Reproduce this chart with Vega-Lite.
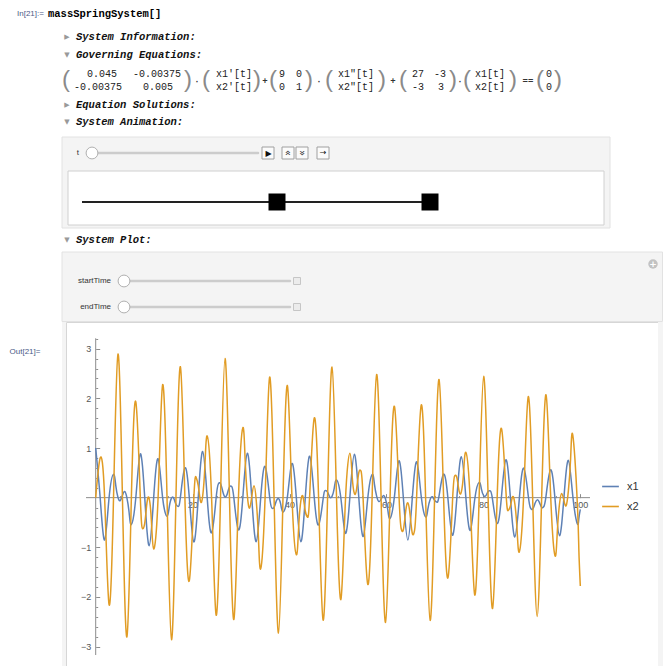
{
"$schema": "https://vega.github.io/schema/vega-lite/v6.json",
"background": "white",
"padding": 0,
"spacing": 0,
"bounds": "flush",
"config": {"view": {"stroke": null}, "concat": {"spacing": 0}},
"datasets": {
"panels": [{"x":62,"x2":610,"y":137,"y2":228},{"x":62,"x2":662.5,"y":252,"y2":321.5}],
"inner": [{"x":68,"x2":604,"y":171,"y2":225}],
"tracks": [{"x":90,"x2":258,"y":153},{"x":120,"x2":290,"y":281},{"x":120,"x2":290,"y":307}],
"animline": [{"x":82,"x2":438,"y":202}],
"masses": [{"x":277,"y":202},{"x":430,"y":202}],
"knobs": [{"x":92,"y":153},{"x":124,"y":281},{"x":124,"y":307}],
"plusboxes": [{"x":297,"y":281},{"x":297,"y":307}],
"buttons": [{"x":268,"y":153},{"x":288,"y":153},{"x":302,"y":153},{"x":323,"y":153}],
"glyphs": [{"x":268.5,"y":153.5,"text":"▶"},{"x":323,"y":153,"text":"→"}],
"chevup": [{"x":288,"y":153,"text":"»"}],
"chevdown": [{"x":302,"y":153,"text":"»"}],
"addbtn": [{"x":653,"y":264}],
"inlabel": [{"x":17,"y":14,"text":"In[21]:="}],
"cmd": [{"x":48,"y":14,"text":"massSpringSystem[]"}],
"headers": [{"x":76,"y":37,"text":"System Information:"},{"x":76,"y":55,"text":"Governing Equations:"},{"x":76,"y":105,"text":"Equation Solutions:"},{"x":76,"y":122,"text":"System Animation:"},{"x":76,"y":240,"text":"System Plot:"}],
"triangles": [{"x":67,"y":37,"text":"▶"},{"x":67,"y":55,"text":"▼"},{"x":67,"y":105,"text":"▶"},{"x":67,"y":122,"text":"▼"},{"x":67,"y":240,"text":"▼"}],
"mcells": [
{"x":102,"y":74,"text":"0.045"},{"x":157,"y":74,"text":"-0.00375"},
{"x":98,"y":87,"text":"-0.00375"},{"x":158,"y":87,"text":"0.005"},
{"x":234,"y":74,"text":"x1′[t]"},{"x":234,"y":87,"text":"x2′[t]"},
{"x":282,"y":74,"text":"9"},{"x":299,"y":74,"text":"0"},{"x":282,"y":87,"text":"0"},{"x":299,"y":87,"text":"1"},
{"x":356,"y":74,"text":"x1″[t]"},{"x":356,"y":87,"text":"x2″[t]"},
{"x":418,"y":74,"text":"27"},{"x":440,"y":74,"text":"-3"},{"x":418,"y":87,"text":"-3"},{"x":441,"y":87,"text":"3"},
{"x":490,"y":74,"text":"x1[t]"},{"x":490,"y":87,"text":"x2[t]"},
{"x":549,"y":74,"text":"0"},{"x":549,"y":87,"text":"0"}],
"parens": [
{"x":66,"y":80,"text":"("},{"x":188,"y":80,"text":")"},{"x":206,"y":80,"text":"("},{"x":257,"y":80,"text":")"},
{"x":273,"y":80,"text":"("},{"x":309,"y":80,"text":")"},{"x":329,"y":80,"text":"("},{"x":382,"y":80,"text":")"},
{"x":403,"y":80,"text":"("},{"x":453,"y":80,"text":")"},{"x":467,"y":80,"text":"("},{"x":513,"y":80,"text":")"},
{"x":540,"y":80,"text":"("},{"x":558,"y":80,"text":")"}],
"ops": [{"x":197,"y":81,"text":"·"},{"x":265,"y":81,"text":"+"},{"x":319,"y":81,"text":"·"},{"x":393,"y":81,"text":"+"},{"x":460,"y":81,"text":"·"},{"x":528,"y":81,"text":"=="}],
"sliderlabels": [{"x":79,"y":153,"text":"t"},{"x":111,"y":281,"text":"startTime"},{"x":111,"y":307,"text":"endTime"}],
"leftstrip": [{"x":62,"x2":66,"y":0,"y2":344}],
"outlabel": [{"x":25,"y":30,"text":"Out[21]="}],
"rightstrip": [{"x":0,"x2":5,"y":0,"y2":344}],
"xaxisline": [{"a":-2,"b":102,"v":0}],
"yaxisline": [{"t":0,"lo":-3.17,"hi":3.21}],
"curves": [
{"t":0,"x1":1,"x2":0},
{"t":0.92,"x1":0,"x2":0.797},
{"t":1.84,"x1":-0.854,"x2":-0.003},
{"t":2.76,"x1":-0.001,"x2":-2.155},
{"t":3.681,"x1":0.469,"x2":0.003},
{"t":4.141,"x1":0.247},
{"t":4.601,"x1":0.003,"x2":2.892},
{"t":5.061,"x1":-0.06},
{"t":5.521,"x1":0.046,"x2":0},
{"t":5.981,"x1":0.123},
{"t":6.441,"x1":-0.004,"x2":-2.806},
{"t":6.901,"x1":-0.305},
{"t":7.361,"x1":-0.542,"x2":-0.007},
{"t":8.281,"x1":0.003,"x2":1.929},
{"t":9.202,"x1":0.881,"x2":0.015},
{"t":9.662,"x2":-0.623},
{"t":10.122,"x1":-0.001,"x2":-0.515},
{"t":10.582,"x2":-0.101},
{"t":11.042,"x1":-0.969,"x2":-0.02},
{"t":11.502,"x2":-0.479},
{"t":11.962,"x1":-0.003,"x2":-1.031},
{"t":12.882,"x1":0.782,"x2":0.019},
{"t":13.802,"x1":0.007,"x2":2.272},
{"t":14.722,"x1":-0.376,"x2":-0.01},
{"t":15.182,"x1":-0.185},
{"t":15.643,"x1":-0.009,"x2":-2.861},
{"t":16.103,"x1":-0.009},
{"t":16.563,"x1":-0.133,"x2":-0.004},
{"t":17.023,"x1":-0.176},
{"t":17.483,"x1":0.01,"x2":2.636},
{"t":18.403,"x1":0.599,"x2":0.021},
{"t":19.323,"x1":-0.007,"x2":-1.67},
{"t":20.243,"x1":-0.892,"x2":-0.034},
{"t":20.703,"x2":0.413},
{"t":21.163,"x1":0.001,"x2":0.241},
{"t":21.624,"x2":-0.073},
{"t":22.084,"x1":0.93,"x2":0.038},
{"t":22.544,"x2":0.657},
{"t":23.004,"x1":0.006,"x2":1.243},
{"t":23.924,"x1":-0.706,"x2":-0.032},
{"t":24.844,"x1":-0.012,"x2":-2.363},
{"t":25.304,"x1":0.275},
{"t":25.764,"x1":0.284,"x2":0.014},
{"t":26.224,"x1":0.125},
{"t":26.684,"x1":0.016,"x2":2.805},
{"t":27.144,"x1":0.075},
{"t":27.605,"x1":0.214,"x2":0.011},
{"t":28.065,"x1":0.225},
{"t":28.525,"x1":-0.015,"x2":-2.451},
{"t":29.445,"x1":-0.647,"x2":-0.036},
{"t":30.365,"x1":0.009,"x2":1.409},
{"t":30.825,"x2":0.794},
{"t":31.285,"x1":0.893,"x2":0.052},
{"t":31.745,"x2":-0.21},
{"t":32.205,"x1":0,"x2":0.021},
{"t":32.665,"x2":0.238},
{"t":33.125,"x1":-0.886,"x2":-0.055},
{"t":33.586,"x2":-0.819},
{"t":34.046,"x1":-0.01,"x2":-1.433},
{"t":34.966,"x1":0.628,"x2":0.041},
{"t":35.886,"x1":0.018,"x2":2.427},
{"t":36.346,"x1":-0.208},
{"t":36.806,"x1":-0.195,"x2":-0.013},
{"t":37.266,"x1":-0.067},
{"t":37.726,"x1":-0.021,"x2":-2.727},
{"t":38.186,"x1":-0.136},
{"t":38.646,"x1":-0.289,"x2":-0.021},
{"t":39.566,"x1":0.019,"x2":2.254},
{"t":40.487,"x1":0.687,"x2":0.052},
{"t":41.407,"x1":-0.01,"x2":-1.15},
{"t":41.867,"x2":-0.62},
{"t":42.327,"x1":-0.887,"x2":-0.07},
{"t":42.787,"x2":0.015},
{"t":43.247,"x1":-0.002,"x2":-0.269},
{"t":43.707,"x2":-0.392},
{"t":44.167,"x1":0.835,"x2":0.069},
{"t":45.087,"x1":0.015,"x2":1.6},
{"t":46.008,"x1":-0.548,"x2":-0.047},
{"t":46.928,"x1":-0.024,"x2":-2.466},
{"t":47.388,"x1":0.142},
{"t":47.848,"x1":0.109,"x2":0.01},
{"t":48.308,"x1":0.012},
{"t":48.768,"x1":0.027,"x2":2.629},
{"t":49.228,"x1":0.192},
{"t":49.688,"x1":0.357,"x2":0.033},
{"t":50.608,"x1":-0.022,"x2":-2.048},
{"t":51.528,"x1":-0.718,"x2":-0.069},
{"t":52.449,"x1":0.01,"x2":0.894},
{"t":52.909,"x2":0.451},
{"t":53.369,"x1":0.873,"x2":0.087},
{"t":53.829,"x2":0.169},
{"t":54.289,"x1":0.006,"x2":0.501},
{"t":54.749,"x2":0.535},
{"t":55.209,"x1":-0.78,"x2":-0.081},
{"t":56.129,"x1":-0.02,"x2":-1.743},
{"t":57.049,"x1":0.468,"x2":0.05},
{"t":57.509,"x1":0.278},
{"t":57.97,"x1":0.03,"x2":2.481},
{"t":58.43,"x1":-0.079},
{"t":58.89,"x1":-0.027,"x2":-0.003},
{"t":59.35,"x1":0.041},
{"t":59.81,"x1":-0.031,"x2":-2.512},
{"t":60.27,"x1":-0.243},
{"t":60.73,"x1":-0.418,"x2":-0.048},
{"t":61.65,"x1":0.024,"x2":1.834},
{"t":62.57,"x1":0.741,"x2":0.087},
{"t":63.03,"x2":-0.621},
{"t":63.49,"x1":-0.009,"x2":-0.644},
{"t":63.95,"x2":-0.287},
{"t":64.411,"x1":-0.852,"x2":-0.103},
{"t":64.871,"x2":-0.342},
{"t":65.331,"x1":-0.01,"x2":-0.717},
{"t":65.791,"x2":-0.666},
{"t":66.251,"x1":0.721,"x2":0.089},
{"t":67.171,"x1":0.026,"x2":1.863},
{"t":68.091,"x1":-0.388,"x2":-0.049},
{"t":68.551,"x1":-0.224},
{"t":69.011,"x1":-0.036,"x2":-2.473},
{"t":69.471,"x1":0.018},
{"t":69.931,"x1":-0.052,"x2":-0.007},
{"t":70.392,"x1":-0.09},
{"t":70.852,"x1":0.035,"x2":2.379},
{"t":71.772,"x1":0.473,"x2":0.064},
{"t":72.692,"x1":-0.024,"x2":-1.615},
{"t":73.612,"x1":-0.757,"x2":-0.104},
{"t":74.072,"x2":0.437},
{"t":74.532,"x1":0.006,"x2":0.401},
{"t":74.992,"x2":0.13},
{"t":75.452,"x1":0.824,"x2":0.116},
{"t":75.912,"x2":0.503},
{"t":76.372,"x1":0.015,"x2":0.914},
{"t":77.293,"x1":-0.659,"x2":-0.095},
{"t":78.213,"x1":-0.032,"x2":-1.96},
{"t":79.133,"x1":0.308,"x2":0.046},
{"t":79.593,"x1":0.172},
{"t":80.053,"x1":0.041,"x2":2.443},
{"t":80.513,"x1":0.04},
{"t":80.973,"x1":0.125,"x2":0.019},
{"t":81.433,"x1":0.136},
{"t":81.893,"x1":-0.038,"x2":-2.232},
{"t":82.814,"x1":-0.52,"x2":-0.081},
{"t":83.734,"x1":0.024,"x2":1.392},
{"t":84.654,"x1":0.764,"x2":0.121},
{"t":85.114,"x2":-0.259},
{"t":85.574,"x1":-0.003,"x2":-0.168},
{"t":86.034,"x2":0.02},
{"t":86.494,"x1":-0.791,"x2":-0.128},
{"t":86.954,"x2":-0.65},
{"t":87.414,"x1":-0.02,"x2":-1.093},
{"t":88.334,"x1":0.593,"x2":0.098},
{"t":89.255,"x1":0.038,"x2":2.034},
{"t":89.715,"x1":-0.206},
{"t":90.175,"x1":-0.231,"x2":-0.039},
{"t":90.635,"x1":-0.12},
{"t":91.095,"x1":-0.045,"x2":-2.392},
{"t":91.555,"x1":-0.095},
{"t":92.015,"x1":-0.194,"x2":-0.033},
{"t":92.475,"x1":-0.179},
{"t":92.935,"x1":0.04,"x2":2.072},
{"t":93.855,"x1":0.56,"x2":0.098},
{"t":94.776,"x1":-0.023,"x2":-1.17},
{"t":95.236,"x2":-0.715},
{"t":95.696,"x1":-0.765,"x2":-0.137},
{"t":96.156,"x2":0.086},
{"t":96.616,"x1":-0.001,"x2":-0.055},
{"t":97.076,"x2":-0.162},
{"t":97.536,"x1":0.752,"x2":0.137},
{"t":97.996,"x2":0.782},
{"t":98.456,"x1":0.026,"x2":1.253},
{"t":99.376,"x1":-0.526,"x2":-0.098},
{"t":99.7,"x1":-0.419,"x2":-1.058},
{"t":100,"x1":-0.236,"x2":-1.778}
]
},
"vconcat": [
{
"width": 663, "height": 322,
"view": {"stroke": null},
"encoding": {
 "x": {"field":"x","type":"quantitative","scale":{"domain":[0,663],"nice":false,"zero":false},"axis":null},
 "y": {"field":"y","type":"quantitative","scale":{"domain":[0,322],"nice":false,"zero":false,"reverse":true},"axis":null}
},
"layer": [
 {"data":{"name":"panels"},"mark":{"type":"rect","fill":"#f4f4f4","stroke":"#e2e2e2","strokeWidth":1},"encoding":{"x2":{"field":"x2"},"y2":{"field":"y2"}}},
 {"data":{"name":"inner"},"mark":{"type":"rect","fill":"#ffffff","stroke":"#d0d0d0","strokeWidth":1},"encoding":{"x2":{"field":"x2"},"y2":{"field":"y2"}}},
 {"data":{"name":"tracks"},"mark":{"type":"rule","stroke":"#cccccc","strokeWidth":2.5,"strokeCap":"round"},"encoding":{"x2":{"field":"x2"}}},
 {"data":{"name":"animline"},"mark":{"type":"rule","stroke":"#222222","strokeWidth":2},"encoding":{"x2":{"field":"x2"}}},
 {"data":{"name":"masses"},"mark":{"type":"point","shape":"square","filled":true,"color":"#000000","size":289,"opacity":1}},
 {"data":{"name":"knobs"},"mark":{"type":"point","shape":"circle","filled":true,"fill":"#ffffff","stroke":"#b0b0b0","strokeWidth":1,"size":140,"opacity":1}},
 {"data":{"name":"plusboxes"},"mark":{"type":"point","shape":"square","filled":true,"fill":"#ececec","stroke":"#c6c6c6","strokeWidth":1,"size":49,"opacity":1}},
 {"data":{"name":"buttons"},"mark":{"type":"point","shape":"square","filled":true,"fill":"#fbfbfb","stroke":"#a0a0a0","strokeWidth":1,"size":144,"opacity":1}},
 {"data":{"name":"glyphs"},"mark":{"type":"text","font":"DejaVu Sans","fontSize":8,"color":"#111111","align":"center","baseline":"middle"},"encoding":{"text":{"field":"text","type":"nominal"}}},
 {"data":{"name":"chevup"},"mark":{"type":"text","font":"DejaVu Sans","fontSize":10,"color":"#333333","align":"center","baseline":"middle","angle":270},"encoding":{"text":{"field":"text","type":"nominal"}}},
 {"data":{"name":"chevdown"},"mark":{"type":"text","font":"DejaVu Sans","fontSize":10,"color":"#333333","align":"center","baseline":"middle","angle":90},"encoding":{"text":{"field":"text","type":"nominal"}}},
 {"data":{"name":"addbtn"},"mark":{"type":"point","shape":"circle","filled":true,"fill":"#c2c2c2","size":90,"opacity":1}},
 {"data":{"name":"addbtn"},"mark":{"type":"text","text":"+","font":"DejaVu Sans","fontSize":9,"fontWeight":"bold","color":"#ffffff","align":"center","baseline":"middle"}},
 {"data":{"name":"inlabel"},"mark":{"type":"text","font":"Liberation Sans","fontSize":8,"color":"#4b5a86","align":"left","baseline":"middle"},"encoding":{"text":{"field":"text","type":"nominal"}}},
 {"data":{"name":"cmd"},"mark":{"type":"text","font":"Liberation Mono","fontSize":10.5,"fontWeight":"bold","color":"#000000","align":"left","baseline":"middle"},"encoding":{"text":{"field":"text","type":"nominal"}}},
 {"data":{"name":"headers"},"mark":{"type":"text","font":"Liberation Mono","fontSize":10.5,"fontWeight":"bold","fontStyle":"italic","color":"#111111","align":"left","baseline":"middle"},"encoding":{"text":{"field":"text","type":"nominal"}}},
 {"data":{"name":"triangles"},"mark":{"type":"text","font":"DejaVu Sans","fontSize":7,"color":"#999999","align":"center","baseline":"middle"},"encoding":{"text":{"field":"text","type":"nominal"}}},
 {"data":{"name":"mcells"},"mark":{"type":"text","font":"Liberation Mono","fontSize":10,"color":"#222222","align":"center","baseline":"middle"},"encoding":{"text":{"field":"text","type":"nominal"}}},
 {"data":{"name":"parens"},"mark":{"type":"text","font":"Liberation Sans","fontSize":24,"color":"#8a8a8a","align":"center","baseline":"middle"},"encoding":{"text":{"field":"text","type":"nominal"}}},
 {"data":{"name":"ops"},"mark":{"type":"text","font":"Liberation Mono","fontSize":9,"fontWeight":"bold","color":"#333333","align":"center","baseline":"middle"},"encoding":{"text":{"field":"text","type":"nominal"}}},
 {"data":{"name":"sliderlabels"},"mark":{"type":"text","font":"Liberation Sans","fontSize":8,"color":"#333333","align":"right","baseline":"middle"},"encoding":{"text":{"field":"text","type":"nominal"}}}
]
},
{
"hconcat": [
 {
 "width": 66, "height": 344,
 "view": {"stroke": null},
 "encoding": {
  "x": {"field":"x","type":"quantitative","scale":{"domain":[0,66],"nice":false,"zero":false},"axis":null},
  "y": {"field":"y","type":"quantitative","scale":{"domain":[0,344],"nice":false,"zero":false,"reverse":true},"axis":null}
 },
 "layer": [
  {"data":{"name":"leftstrip"},"mark":{"type":"rect","fill":"#f4f4f4"},"encoding":{"x2":{"field":"x2"},"y2":{"field":"y2"}}},
  {"data":{"name":"outlabel"},"mark":{"type":"text","font":"Liberation Sans","fontSize":8,"color":"#4b5a86","align":"center","baseline":"middle"},"encoding":{"text":{"field":"text","type":"nominal"}}}
 ]
 },
 {
 "width": 592, "height": 344,
 "view": {"stroke": "#d6d6d6", "fill": "#ffffff"},
 "resolve": {"axis": {"x": "independent", "y": "independent"}},
 "layer": [
  {
   "data": {"name":"xaxisline"},
   "mark": {"type":"rule","stroke":"#8c8c8c","strokeWidth":1},
   "encoding": {
    "x": {"field":"a","type":"quantitative","scale":{"domain":[-6.127,116.03],"nice":false,"zero":false},
      "axis":{"orient":"bottom","offset":-168.35,"values":[5,10,15,25,30,35,45,50,55,65,70,75,85,90,95],"tickSize":-2,"tickColor":"#8c8c8c","labels":false,"domain":false,"grid":false,"title":null}},
    "x2": {"field":"b"},
    "y": {"field":"v","type":"quantitative","scale":{"domain":[-3.391,3.538],"nice":false,"zero":false},
      "axis":{"orient":"left","offset":-29.69,"values":[-2.8,-2.6,-2.4,-2.2,-1.8,-1.6,-1.4,-1.2,-0.8,-0.6,-0.4,-0.2,0.2,0.4,0.6,0.8,1.2,1.4,1.6,1.8,2.2,2.4,2.6,2.8,3.2],"tickSize":-2,"tickColor":"#8c8c8c","labels":false,"domain":false,"grid":false,"title":null}}
   }
  },
  {
   "data": {"name":"yaxisline"},
   "mark": {"type":"rule","stroke":"#8c8c8c","strokeWidth":1},
   "encoding": {
    "x": {"field":"t","type":"quantitative","scale":{"domain":[-6.127,116.03],"nice":false,"zero":false},"axis":null},
    "y": {"field":"lo","type":"quantitative","scale":{"domain":[-3.391,3.538],"nice":false,"zero":false},"axis":null},
    "y2": {"field":"hi"}
   }
  },
  {
   "data": {"name":"curves"},
   "transform": [{"fold":["x1","x2"],"as":["series","value"]},{"filter":"isValid(datum.value)"}],
   "mark": {"type":"line","interpolate":"natural","strokeWidth":1.5},
   "encoding": {
    "x": {"field":"t","type":"quantitative","scale":{"domain":[-6.127,116.03],"nice":false,"zero":false},
      "axis":{"orient":"bottom","offset":-168.35,"values":[20,40,60,80,100],"tickSize":-4,"tickColor":"#8c8c8c","labelPadding":7,"labelFont":"Liberation Sans","labelFontSize":9,"labelColor":"#555555","labelFlush":false,"labelOverlap":false,"domain":false,"grid":false,"title":null}},
    "y": {"field":"value","type":"quantitative","scale":{"domain":[-3.391,3.538],"nice":false,"zero":false},
      "axis":{"orient":"left","offset":-29.69,"values":[-3,-2,-1,1,2,3],"tickSize":-4,"tickColor":"#8c8c8c","labelPadding":9,"labelFont":"Liberation Sans","labelFontSize":9,"labelColor":"#555555","labelFlush":false,"labelOverlap":false,"domain":false,"grid":false,"title":null}},
    "color": {"field":"series","type":"nominal","scale":{"domain":["x1","x2"],"range":["#5E81B5","#E19C24"]},
      "legend":{"orient":"none","legendX":601,"legendY":477,"title":null,"symbolType":"stroke","symbolStrokeWidth":1.6,"symbolSize":280,"labelFont":"Liberation Sans","labelFontSize":11,"labelColor":"#333333","rowPadding":5,"labelOffset":7,"padding":0}}
   }
  }
 ]
 },
 {
 "width": 5, "height": 344,
 "view": {"stroke": null},
 "encoding": {
  "x": {"field":"x","type":"quantitative","scale":{"domain":[0,5],"nice":false,"zero":false},"axis":null},
  "y": {"field":"y","type":"quantitative","scale":{"domain":[0,344],"nice":false,"zero":false,"reverse":true},"axis":null}
 },
 "layer": [
  {"data":{"name":"rightstrip"},"mark":{"type":"rect","fill":"#f4f4f4"},"encoding":{"x2":{"field":"x2"},"y2":{"field":"y2"}}}
 ]
 }
],
"spacing": 0,
"bounds": "flush"
}
]
}
